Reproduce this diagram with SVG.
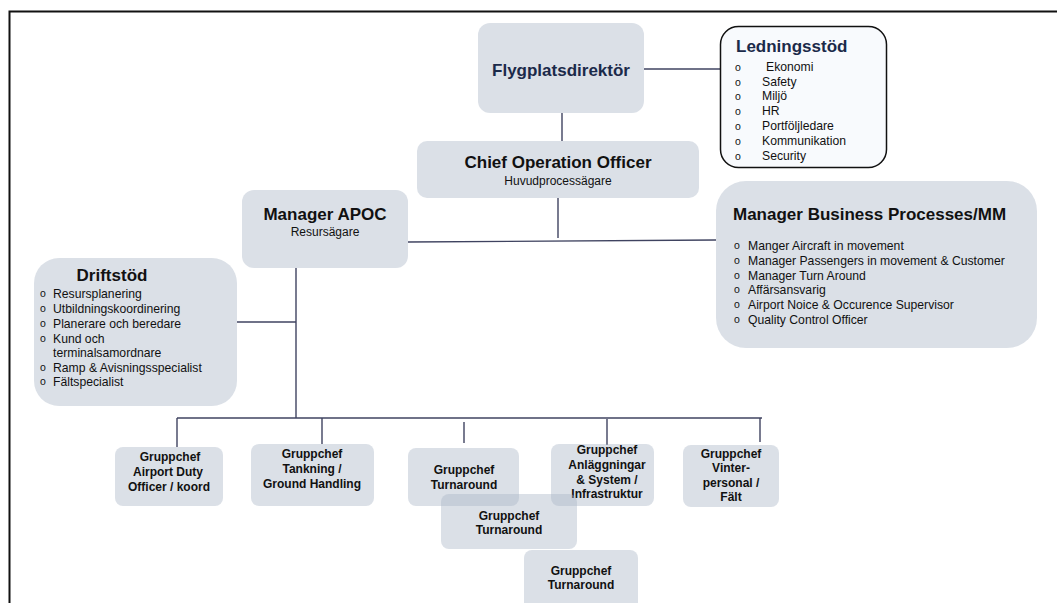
<svg xmlns="http://www.w3.org/2000/svg" width="1057" height="603" viewBox="0 0 1057 603">
<style>
.box{fill:#aab4c6;fill-opacity:0.42;}
.t{font-family:"Liberation Sans",Arial,sans-serif;fill:#111;}
.h{font-weight:bold;font-size:17px;}
.hn{font-weight:bold;font-size:17px;fill:#1b2a4a;}
.s{font-size:12px;}
.it{font-size:12.2px;}
.b{font-size:10.5px;}
.g{font-weight:bold;font-size:12px;text-anchor:middle;}
.c{stroke:#3f4360;stroke-width:1.4;fill:none;}
.m{text-anchor:middle;}
</style>
<rect width="1057" height="603" fill="#fff"/>
<path d="M9.5,603 V11.5 H1057" stroke="#111" stroke-width="2" fill="none"/>
<g id="connectors">
<path class="c" d="M644,69 H720"/>
<path class="c" d="M562,113 V141"/>
<path class="c" d="M558,198 V238"/>
<path class="c" d="M408,242 L716,240"/>
<path class="c" d="M296,268 V418"/>
<path class="c" d="M237,322 H296"/>
<path class="c" d="M177,418 H762"/>
<path class="c" d="M177,418 V447"/>
<path class="c" d="M322,418 V444"/>
<path class="c" d="M464,422 V443"/>
<path class="c" d="M607,419 V445"/>
<path class="c" d="M760,418 V442"/>
</g>
<g id="flygplatsdirektor">
<rect class="box" x="478" y="23" width="166" height="90" rx="12"/>
<text class="t hn m" x="561" y="76">Flygplatsdirektör</text>
</g>
<g id="ledningsstod">
<rect x="720.5" y="26.5" width="166" height="141" rx="18" fill="#f8fafd" stroke="#111" stroke-width="1.5"/>
<text class="t hn" x="736" y="52">Ledningsstöd</text>
<g class="t b"><text x="735" y="71">o</text><text x="735" y="86">o</text><text x="735" y="100">o</text><text x="735" y="115">o</text><text x="735" y="130">o</text><text x="735" y="145">o</text><text x="735" y="160">o</text></g>
<g class="t it"><text x="766" y="71">Ekonomi</text><text x="762" y="86">Safety</text><text x="762" y="100">Miljö</text><text x="762" y="115">HR</text><text x="762" y="130">Portföljledare</text><text x="762" y="145">Kommunikation</text><text x="762" y="160">Security</text></g>
</g>
<g id="coo">
<rect class="box" x="417" y="141" width="282" height="57" rx="10"/>
<text class="t h m" x="558" y="168">Chief Operation Officer</text>
<text class="t s m" x="558" y="185">Huvudprocessägare</text>
</g>
<g id="manager-apoc">
<rect class="box" x="242" y="190" width="166" height="78" rx="12"/>
<text class="t h m" x="325" y="220">Manager APOC</text>
<text class="t s m" x="325" y="236">Resursägare</text>
</g>
<g id="manager-business">
<rect class="box" x="716" y="181" width="321" height="167" rx="30"/>
<text class="t h" x="733" y="220">Manager Business Processes/MM</text>
<g class="t b"><text x="734" y="249">o</text><text x="734" y="264">o</text><text x="734" y="279">o</text><text x="734" y="293">o</text><text x="734" y="308">o</text><text x="734" y="323">o</text></g>
<g class="t it"><text x="748" y="250">Manger Aircraft in movement</text><text x="748" y="265">Manager Passengers in movement &amp; Customer</text><text x="748" y="280">Manager Turn Around</text><text x="748" y="294">Affärsansvarig</text><text x="748" y="309">Airport Noice &amp; Occurence Supervisor</text><text x="748" y="324">Quality Control Officer</text></g>
</g>
<g id="driftstod">
<rect class="box" x="34" y="258" width="203" height="148" rx="25"/>
<text class="t h m" x="112" y="281">Driftstöd</text>
<g class="t b"><text x="40" y="297">o</text><text x="40" y="312">o</text><text x="40" y="327">o</text><text x="40" y="342">o</text><text x="40" y="371">o</text><text x="40" y="385">o</text></g>
<g class="t it"><text x="53" y="298">Resursplanering</text><text x="53" y="313">Utbildningskoordinering</text><text x="53" y="328">Planerare och beredare</text><text x="53" y="343">Kund och</text><text x="53" y="357">terminalsamordnare</text><text x="53" y="372">Ramp &amp; Avisningsspecialist</text><text x="53" y="386">Fältspecialist</text></g>
</g>
<g id="gc-ado">
<rect class="box" x="115" y="447" width="108" height="59" rx="8"/>
<text class="t g" x="170" y="461">Gruppchef</text><text class="t g" x="168" y="476">Airport Duty</text><text class="t g" x="169" y="491">Officer / koord</text>
</g>
<g id="gc-tankning">
<rect class="box" x="251" y="444" width="123" height="62" rx="8"/>
<text class="t g" x="312" y="458">Gruppchef</text><text class="t g" x="312" y="473">Tankning /</text><text class="t g" x="312" y="488">Ground Handling</text>
</g>
<g id="gc-turnaround-1">
<rect class="box" x="408" y="448" width="111" height="58" rx="8"/>
<text class="t g" x="464" y="474">Gruppchef</text><text class="t g" x="464" y="489">Turnaround</text>
</g>
<g id="gc-anlaggningar">
<rect class="box" x="551" y="444" width="103" height="62" rx="8"/>
<text class="t g" x="607" y="454">Gruppchef</text><text class="t g" x="607" y="469">Anläggningar</text><text class="t g" x="607" y="484">&amp; System /</text><text class="t g" x="607" y="498">Infrastruktur</text>
</g>
<g id="gc-vinter">
<rect class="box" x="683" y="445" width="96" height="62" rx="8"/>
<text class="t g" x="731" y="458">Gruppchef</text><text class="t g" x="731" y="472">Vinter-</text><text class="t g" x="731" y="487">personal /</text><text class="t g" x="731" y="501">Fält</text>
</g>
<g id="gc-turnaround-2">
<rect class="box" x="441" y="494" width="136" height="55" rx="8"/>
<text class="t g" x="509" y="520">Gruppchef</text><text class="t g" x="509" y="534">Turnaround</text>
</g>
<g id="gc-turnaround-3">
<rect class="box" x="524" y="550" width="114" height="60" rx="8"/>
<text class="t g" x="581" y="575">Gruppchef</text><text class="t g" x="581" y="589">Turnaround</text>
</g>
</svg>
